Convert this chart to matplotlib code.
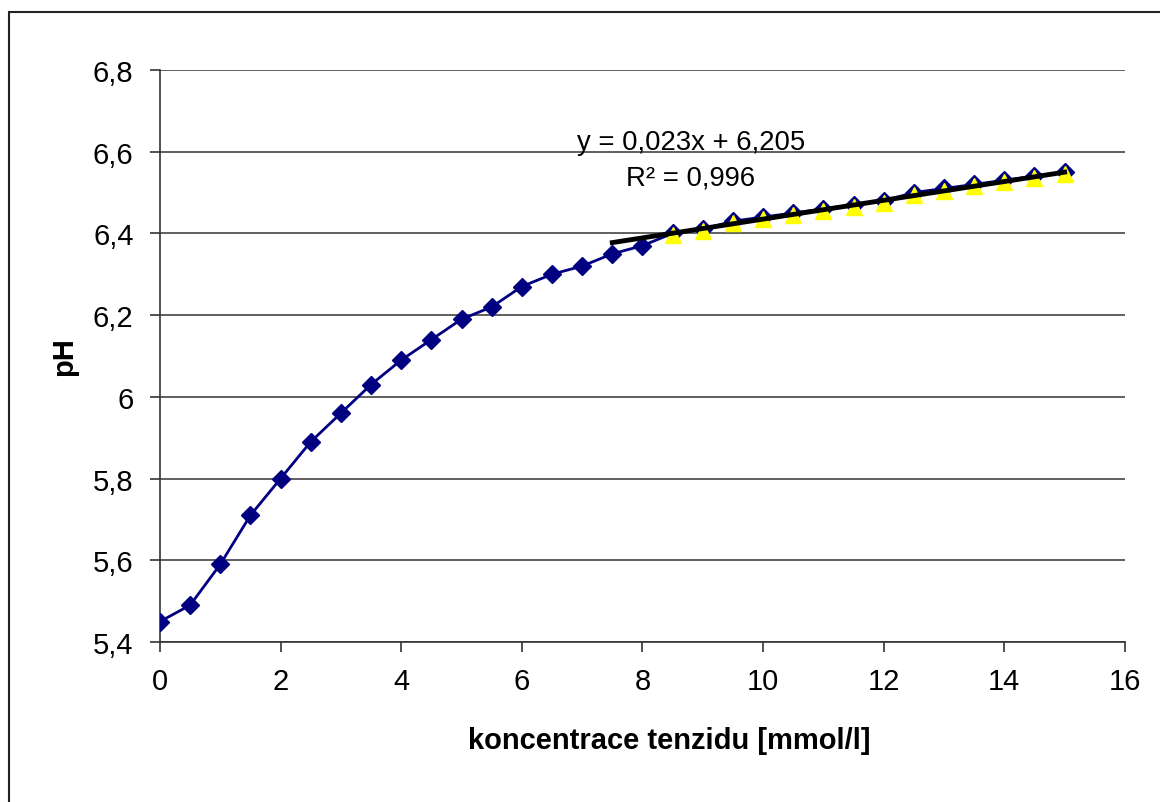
import matplotlib.pyplot as plt
from matplotlib.patches import Rectangle
from matplotlib.ticker import FuncFormatter

plt.rcParams['font.family'] = ['Liberation Sans', 'DejaVu Sans']

# pH vs surfactant concentration
conc = [0, 0.5, 1, 1.5, 2, 2.5, 3, 3.5, 4, 4.5, 5, 5.5, 6, 6.5, 7, 7.5,
        8, 8.5, 9, 9.5, 10, 10.5, 11, 11.5, 12, 12.5, 13, 13.5, 14, 14.5, 15]
ph = [5.45, 5.49, 5.59, 5.71, 5.80, 5.89, 5.96, 6.03, 6.09, 6.14, 6.19, 6.22,
      6.27, 6.30, 6.32, 6.35, 6.37, 6.40, 6.41, 6.43, 6.44, 6.45, 6.46, 6.47,
      6.48, 6.50, 6.51, 6.52, 6.53, 6.54, 6.55]

# points used for the linear fit
fit_conc = conc[17:]
fit_ph = ph[17:]
slope, intercept = 0.023, 6.205
trend_x = [7.5, 15]

fig = plt.figure(figsize=(11.6, 8.03), dpi=100)
ax = fig.add_axes([0.1379, 0.1993, 0.8319, 0.7123])

# outer chart frame
fig.patches.append(Rectangle((8.5 / 1160, -0.01), 1.1, 1 - 12.5 / 803 + 0.01,
                             transform=fig.transFigure, fill=False,
                             edgecolor='#222222', linewidth=1.5))

ax.plot(conc, ph, color='#000080', linewidth=2, marker='D', markersize=9.5,
        zorder=3)
ax.plot(fit_conc, [p - 0.005 for p in fit_ph], linestyle='none', marker='^',
        markersize=11.5, color='#ffff00', zorder=4)
ax.plot(trend_x, [slope * x + intercept for x in trend_x], color='black',
        linewidth=3.5, zorder=5)

ax.text(8.8, 6.624, 'y = 0,023x + 6,205', fontsize=19.8, ha='center',
        va='center')
ax.text(8.8, 6.538, 'R² = 0,996', fontsize=19.8, ha='center', va='center')

ax.set_xlim(0, 16)
ax.set_ylim(5.4, 6.8)
ax.set_xticks(range(0, 17, 2))
ax.set_yticks([5.4, 5.6, 5.8, 6.0, 6.2, 6.4, 6.6, 6.8])
ax.yaxis.set_major_formatter(FuncFormatter(
    lambda v, p: ('%g' % round(v, 1)).replace('.', ',')))
ax.tick_params(labelsize=21, length=7, width=1.2, color='#333333')
ax.tick_params(axis='x', pad=11)
ax.tick_params(axis='y', pad=12)
ax.grid(axis='y', color='#444444', linewidth=1.2)
ax.set_axisbelow(True)
for side in ['top', 'right']:
    ax.spines[side].set_visible(False)
for side in ['left', 'bottom']:
    ax.spines[side].set_color('#333333')
    ax.spines[side].set_linewidth(1.2)

ax.set_xlabel('koncentrace tenzidu [mmol/l]', fontsize=21, fontweight='bold')
ax.xaxis.set_label_coords(0.5275, -0.1475)
ax.set_ylabel('pH', fontsize=21, fontweight='bold', labelpad=11)

fig.savefig('out.png', dpi=100)
